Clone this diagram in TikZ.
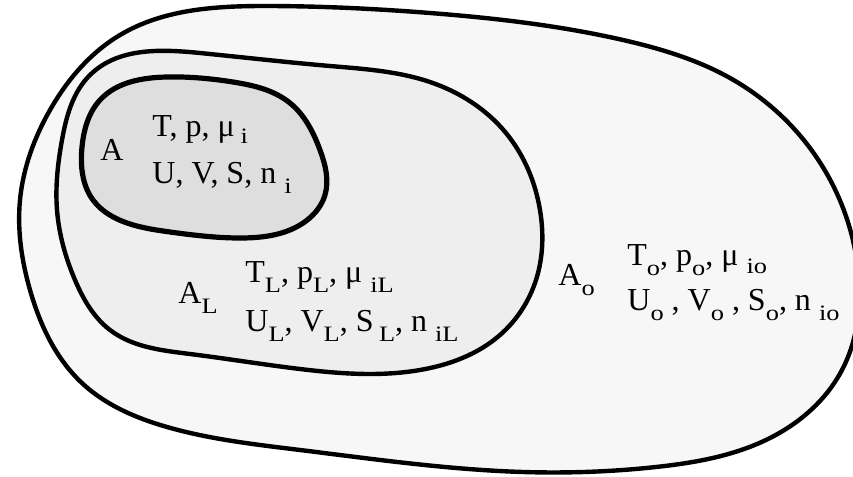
\documentclass[tikz,border=0pt]{standalone}
\usepackage{fontspec}
\setmainfont{Liberation Serif}
\usepackage{xcolor}
\usepackage{tikz}
\usetikzlibrary{positioning,hobby}
\definecolor{cOut}{HTML}{F7F7F7}
\definecolor{cMid}{HTML}{EEEEEE}
\definecolor{cIn}{HTML}{DEDEDE}
\newcommand{\lo}[2][5pt]{\raisebox{-#1}{\scalebox{1.2}[1]{\fontsize{11}{11}\selectfont #2}}}

\begin{document}
\begin{tikzpicture}[x=0.5pt, y=-0.5pt,
  blob/.style={draw=black, line width=2.2pt, fill=#1},
  lbl/.style={anchor=base west, inner sep=0pt, font=\fontsize{16}{16}\selectfont},
]
\useasboundingbox (0,0) rectangle (853,477);

% =================== SURROUNDINGS ===================
\draw[blob=cOut] plot[closed hobby] coordinates {
  (270,6) (430,13) (623,40) (730,78) (815,155) (858,270) (842,370)
  (770,438) (656,467) (523,472) (300,450) (167,427) (83,384) (30,290)
  (20,200) (50,110) (120,35)};

% =================== LOCAL REGION ===================
\draw[blob=cMid] plot[closed hobby] coordinates {
  (200,53) (330,66) (430,82) (506,133) (540,210) (536,280) (500,335)
  (420,370) (300,369) (190,354) (110,330) (75,280) (57,210) (62,140) (90,75)};

% =================== SYSTEM ===================
\draw[blob=cIn, line width=2.6pt] plot[closed hobby] coordinates {
  (167,77) (233,82) (290,103) (320,150) (325,195) (300,225) (240,238)
  (170,232) (127,223) (93,200) (82,147) (100,100)};

% labels
\node[lbl] (nA) at (100,160) {A};
\node[lbl] (rowTa) at (152,136) {T, p, μ\hspace{3pt}\lo[3.5pt]{i}};
\node[lbl] (rowUa) at (152,183) {U, V, S, n \lo{i}};

\node[lbl] (nAL) at (178,303) {A\lo{L}};
\node[lbl] (rowTL) at (245,282) {T\lo{L}, p\lo{L}, μ \lo{iL}};
\node[lbl] (rowUL) at (245,331) {U\lo{L}, V\lo{L}, S\,\lo{L}, n \lo{iL}};

\node[lbl] (nAo) at (558,285) {A\lo{o}};
\node[lbl] (rowTo) at (627,265) {T\lo{o}, p\lo{o}, μ \lo[4pt]{io}};
\node[lbl] (rowUo) at (627,310) {U\lo{o} , V\lo{o} , S\lo{o}, n \lo{io}};

\end{tikzpicture}
\end{document}
